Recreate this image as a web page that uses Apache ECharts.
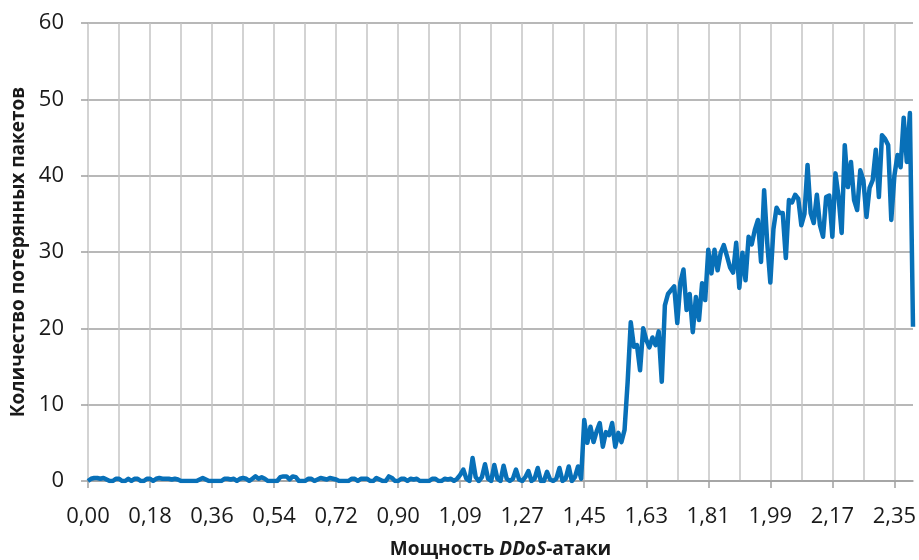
<!DOCTYPE html>
<html lang="ru">
    <head>
        <meta charset="UTF-8">
        <title>Потери пакетов при DDoS-атаке</title>
        <script src="https://cdn.jsdelivr.net/npm/echarts@6/dist/echarts.min.js"></script>
        <style>
            body { margin: 0; background: #fff; }
        </style>
    </head>
    <body>
        <div id="main" style="width: 919px;height:560px;"></div>
        <script>
            // подписи оси X (каждая 20-я точка)
            var xTickLabels = ['0,00', '0,18', '0,36', '0,54', '0,72', '0,90', '1,09',
                               '1,27', '1,45', '1,63', '1,81', '1,99', '2,17', '2,35'];
            var yTicks = [0, 10, 20, 30, 40, 50, 60];

            // количество потерянных пакетов, по точкам
            var lost = [
                0, 0.3, 0.4, 0.4, 0.3, 0.4, 0.2, 0, 0, 0.3,
                0.3, 0, 0, 0.3, 0, 0.3, 0.3, 0, 0, 0.3,
                0.3, 0, 0.3, 0.4, 0.3, 0.3, 0.3, 0.2, 0.3, 0.2,
                0, 0, 0, 0, 0, 0, 0.2, 0.4, 0.2, 0,
                0, 0, 0, 0, 0.3, 0.3, 0.2, 0.3, 0, 0.3,
                0.4, 0.3, 0, 0.3, 0.6, 0.3, 0.5, 0.3, 0, 0,
                0, 0, 0.5, 0.6, 0.6, 0.2, 0.6, 0.5, 0, 0,
                0, 0.3, 0.3, 0, 0.2, 0.4, 0.3, 0.2, 0.4, 0.3,
                0.2, 0, 0, 0, 0, 0.3, 0.3, 0, 0.3, 0.3,
                0.3, 0, 0, 0.4, 0.2, 0, 0, 0.6, 0.4, 0,
                0, 0.3, 0.3, 0, 0.3, 0.2, 0.3, 0, 0, 0,
                0, 0.3, 0.3, 0, 0, 0.3, 0.2, 0.3, 0, 0.3,
                0.8, 1.5, 0.3, 0, 3.0, 0.5, 0, 0.5, 2.2, 0.3,
                0, 2.1, 0.3, 0, 2.0, 0.3, 0, 0.3, 1.5, 0.2,
                0, 0.5, 1.3, 0, 0.3, 1.7, 0, 0, 1.2, 0.2,
                0, 0.3, 1.7, 0, 0.3, 1.9, 0, 0.5, 1.9, 0.3,
                8.0, 5.0, 7.1, 5.1, 6.5, 7.6, 4.5, 6.4, 6.0, 7.6,
                4.5, 6.3, 5.1, 6.7, 13, 20.8, 17.6, 17.8, 14.5, 20,
                18.5, 17.5, 18.8, 17.8, 19.6, 13, 23, 24.5, 25, 25.5,
                20.7, 26, 27.7, 22.4, 24.5, 19.5, 24.1, 21.1, 25.9, 23.7,
                30.3, 27.2, 30.3, 27.6, 29.9, 30.9, 29.5, 28, 27.3, 31.2,
                25.3, 29.9, 26.3, 32, 31, 32.9, 34.2, 28.7, 38.1, 31.2,
                26, 33, 35.8, 35.1, 35.1, 29.2, 36.8, 36.5, 37.5, 37,
                33.5, 35, 41.4, 35.1, 33.8, 37.5, 33.5, 32, 37.2, 37.4,
                32, 40.3, 37.2, 32.5, 44, 38.5, 41.8, 36.8, 35.5, 40.7,
                39.4, 34.6, 38.4, 39.4, 43.4, 37.2, 45.3, 44.8, 44, 34.2,
                40, 42.7, 41.1, 47.6, 41.8, 48.2, 20.2
            ];

            var perLabel = 20;   // точек между подписями
            var points = lost.map(function (v, i) { return i; });

            var myChart = echarts.init(document.getElementById('main'));

            var option = {
                animation: false,
                textStyle: { fontFamily: 'Open Sans' },
                grid: { left: 88, right: 6, top: 23, bottom: 79, outerBoundsMode: 'none', containLabel: false },
                xAxis: {
                    type: 'category',
                    data: points,
                    boundaryGap: false,
                    name: '{a|Мощность }{b|DDoS}{a|-атаки}',
                    nameLocation: 'middle',
                    nameGap: 59,
                    nameTextStyle: {
                        rich: {
                            a: { fontFamily: 'Open Sans', fontWeight: 'bold', fontSize: 19, color: '#1a1a1a' },
                            b: { fontFamily: 'Open Sans', fontWeight: 'bold', fontStyle: 'italic', fontSize: 19, color: '#1a1a1a' }
                        }
                    },
                    axisLine: { lineStyle: { color: '#a0a0a0', width: 1.5 } },
                    axisTick: {
                        length: 7,
                        interval: function (idx) { return idx % perLabel === 0; },
                        lineStyle: { color: '#a0a0a0', width: 1.5 }
                    },
                    axisLabel: {
                        interval: function (idx) { return idx % perLabel === 0; },
                        formatter: function (v, idx) { return xTickLabels[idx / perLabel]; },
                        fontSize: 22,
                        color: '#1a1a1a',
                        margin: 25
                    },
                    splitLine: {
                        show: true,
                        interval: function (idx) { return idx % (perLabel / 2) === 0; },
                        lineStyle: { color: '#c4c4c4', width: 1.5 }
                    }
                },
                yAxis: {
                    type: 'value',
                    min: yTicks[0],
                    max: yTicks[yTicks.length - 1],
                    interval: 10,
                    name: 'Количество потерянных пакетов',
                    nameLocation: 'middle',
                    nameGap: 60,
                    nameTextStyle: { fontWeight: 'bold', fontSize: 19, color: '#1a1a1a' },
                    axisLine: { show: false },
                    axisTick: { show: true, length: 7, lineStyle: { color: '#a0a0a0', width: 1.5 } },
                    axisLabel: { fontSize: 22, color: '#1a1a1a', margin: 24 },
                    splitLine: { lineStyle: { color: '#a0a0a0', width: 1.5 } }
                },
                series: [{
                    name: 'Потери',
                    type: 'line',
                    data: lost,
                    showSymbol: false,
                    lineStyle: { color: '#0870b8', width: 4.5, join: 'round' },
                    itemStyle: { color: '#0870b8' }
                }]
            };

            myChart.setOption(option);
        </script>
    </body>
</html>
